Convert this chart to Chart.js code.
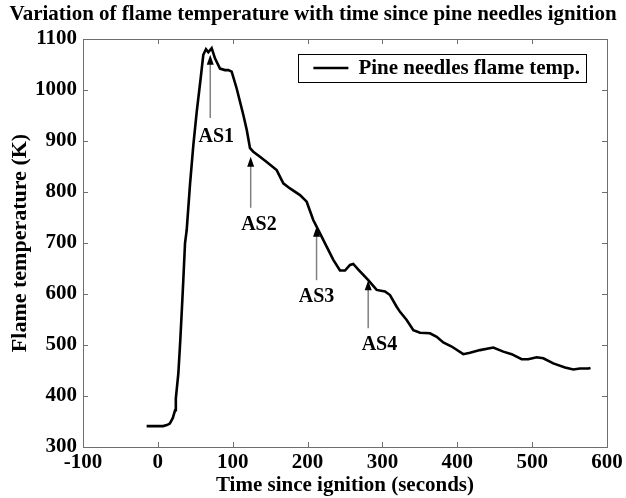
<!DOCTYPE html>
<html>
<head>
<meta charset="utf-8">
<script src="https://cdn.jsdelivr.net/npm/chart.js@4.4.1/dist/chart.umd.min.js"></script>
<style>
  html, body { margin: 0; padding: 0; background: #fff; }
  #wrap { width: 626px; height: 498px; }
</style>
</head>
<body>
<div id="wrap"><canvas id="c" width="626" height="498"></canvas></div>
<script>
// ---- data ----
const timeSec = [-15, 0, 7, 12, 16, 20, 23, 24, 27.4, 30, 32.7, 34, 36.3, 38.5, 42.9, 47.4, 51.9, 57.2, 60.7, 64.3, 67.4, 71.9, 76.3, 83, 89.7, 94.1, 98.6, 105.3, 114.2, 118.7, 120.8, 123.1, 127.5, 136.4, 145.4, 158.7, 167.6, 176.5, 189.9, 198.8, 207.6, 216.6, 225.5, 234.4, 243.3, 250, 256.7, 261.1, 267.8, 281.1, 292.3, 303.4, 310.1, 319, 323.5, 332.4, 341.3, 350.2, 363.5, 372.5, 381.3, 392.5, 408, 417, 430.3, 448.1, 461.5, 472.6, 486, 494.8, 506, 514.9, 528.3, 543.9, 555, 563.9, 575, 578];
const flameTempK = [341, 341, 341, 343, 346, 357, 372, 395, 445, 510, 588, 627, 700, 725, 814, 892, 957, 1023, 1069, 1080, 1074, 1082, 1062, 1042, 1039, 1039, 1036, 1003, 951, 922, 905, 886, 879, 869, 859, 843, 817, 807, 794, 781, 745, 719, 693, 667, 646, 646, 657, 659, 648, 627, 608, 605, 598, 575, 565, 549, 529, 524, 523, 516, 505, 497, 482, 485, 490, 495, 487, 482, 472, 472, 476, 474, 464, 456, 452, 454, 454, 455];
const xTickValues = [-100, 0, 100, 200, 300, 400, 500, 600];
const yTickValues = [300, 400, 500, 600, 700, 800, 900, 1000, 1100];
const seriesName = 'Pine needles flame temp.';
// annotation arrows (data units)
const annotLabels = ['AS1', 'AS2', 'AS3', 'AS4'];
const annotX      = [70, 124, 212, 281];
const annotTipY   = [1069, 869, 732, 627];
const annotTailY  = [945, 769, 627, 533];
const annotLabelX = [78, 135, 212, 296];
const annotLabelY = [908, 735, 594, 500];

const points = timeSec.map((t, i) => ({ x: t, y: flameTempK[i] }));
const FONT = "'Liberation Serif', 'Times New Roman', serif";

const framePlugin = {
  id: 'frameTicks',
  afterDraw(chart) {
    const { ctx, chartArea: a, scales } = chart;
    ctx.save();
    ctx.strokeStyle = '#6e6e6e';
    ctx.lineWidth = 1;
    ctx.strokeRect(Math.round(a.left) + 0.5, Math.round(a.top) + 0.5,
                   Math.round(a.right - a.left), Math.round(a.bottom - a.top));
    const tl = 5;
    ctx.beginPath();
    xTickValues.forEach(v => {
      const px = Math.round(scales.x.getPixelForValue(v)) + 0.5;
      ctx.moveTo(px, a.bottom); ctx.lineTo(px, a.bottom - tl);
      ctx.moveTo(px, a.top); ctx.lineTo(px, a.top + tl);
    });
    yTickValues.forEach(v => {
      const py = Math.round(scales.y.getPixelForValue(v)) + 0.5;
      ctx.moveTo(a.left, py); ctx.lineTo(a.left + tl, py);
      ctx.moveTo(a.right, py); ctx.lineTo(a.right - tl, py);
    });
    ctx.stroke();
    ctx.restore();
  }
};

const arrowPlugin = {
  id: 'arrows',
  afterDatasetsDraw(chart) {
    const { ctx, scales } = chart;
    ctx.save();
    annotLabels.forEach((lab, i) => {
      const x = scales.x.getPixelForValue(annotX[i]);
      const yTip = scales.y.getPixelForValue(annotTipY[i]);
      const yTail = scales.y.getPixelForValue(annotTailY[i]);
      ctx.strokeStyle = '#808080';
      ctx.lineWidth = 1.5;
      ctx.beginPath();
      ctx.moveTo(x, yTail); ctx.lineTo(x, yTip + 8);
      ctx.stroke();
      ctx.fillStyle = '#000';
      ctx.beginPath();
      ctx.moveTo(x, yTip);
      ctx.lineTo(x - 3.5, yTip + 10);
      ctx.lineTo(x + 3.5, yTip + 10);
      ctx.closePath();
      ctx.fill();
      ctx.font = 'bold 20px ' + FONT;
      ctx.textAlign = 'center';
      ctx.textBaseline = 'middle';
      ctx.fillText(lab, scales.x.getPixelForValue(annotLabelX[i]), scales.y.getPixelForValue(annotLabelY[i]));
    });
    ctx.restore();
  }
};

const legendPlugin = {
  id: 'boxLegend',
  afterDraw(chart) {
    const { ctx, chartArea: a } = chart;
    ctx.save();
    ctx.font = 'bold 21px ' + FONT;
    const tw = ctx.measureText(seriesName).width;
    const right = a.right - 21, top = a.top + 15, h = 28;
    const w = tw + 66;
    const left = right - w;
    ctx.fillStyle = '#fff';
    ctx.fillRect(left, top, w, h);
    ctx.strokeStyle = '#000';
    ctx.lineWidth = 1;
    ctx.strokeRect(Math.round(left) + 0.5, Math.round(top) + 0.5, Math.round(w), h);
    ctx.lineWidth = 2.5;
    ctx.beginPath();
    ctx.moveTo(left + 15, top + h / 2); ctx.lineTo(left + 50, top + h / 2);
    ctx.stroke();
    ctx.fillStyle = '#000';
    ctx.textAlign = 'left';
    ctx.textBaseline = 'middle';
    ctx.fillText(seriesName, left + 60, top + h / 2 + 1);
    ctx.restore();
  }
};

new Chart(document.getElementById('c'), {
  type: 'line',
  data: {
    datasets: [{
      label: seriesName,
      data: points,
      borderColor: '#000',
      borderWidth: 2.6,
      pointRadius: 0,
      tension: 0,
      fill: false
    }]
  },
  options: {
    responsive: false,
    animation: false,
    devicePixelRatio: 1,
    layout: { padding: 0 },
    plugins: {
      legend: { display: false },
      tooltip: { enabled: false },
      title: {
        display: true,
        text: 'Variation of flame temperature with time since pine needles ignition',
        color: '#000',
        font: { family: FONT, size: 21, weight: 'bold', lineHeight: 1.2 },
        padding: { top: 2, bottom: 11.8 }
      }
    },
    scales: {
      x: {
        type: 'linear',
        min: -100, max: 600,
        afterBuildTicks: s => { s.ticks = xTickValues.map(v => ({ value: v })); },
        afterFit: s => { s.height = 51; },
        grid: { display: false, drawTicks: false },
        border: { display: false },
        ticks: { color: '#000', autoSkip: false, maxRotation: 0, padding: 3,
                 callback: v => String(v),
                 font: { family: FONT, size: 21, weight: 'bold' } },
        title: { display: true, text: 'Time since ignition (seconds)', color: '#000',
                 padding: { top: 0, bottom: 0 },
                 font: { family: FONT, size: 21, weight: 'bold', lineHeight: 1.2 } }
      },
      y: {
        type: 'linear',
        min: 300, max: 1100,
        afterBuildTicks: s => { s.ticks = yTickValues.map(v => ({ value: v })); },
        afterFit: s => { s.width = 83; },
        grid: { display: false, drawTicks: false },
        border: { display: false },
        ticks: { color: '#000', autoSkip: false, padding: 6,
                 callback: v => String(v),
                 font: { family: FONT, size: 21, weight: 'bold' } },
        title: { display: true, text: 'Flame temperature (K)', color: '#000',
                 padding: { top: 7, bottom: 0 },
                 font: { family: FONT, size: 22, weight: 'bold', lineHeight: 1.2 } }
      },
      yRight: {
        type: 'linear',
        position: 'right',
        min: 300, max: 1100,
        afterFit: s => { s.width = 19; },
        grid: { display: false, drawTicks: false },
        border: { display: false },
        ticks: { display: false }
      }
    }
  },
  plugins: [framePlugin, arrowPlugin, legendPlugin]
});
</script>
</body>
</html>
